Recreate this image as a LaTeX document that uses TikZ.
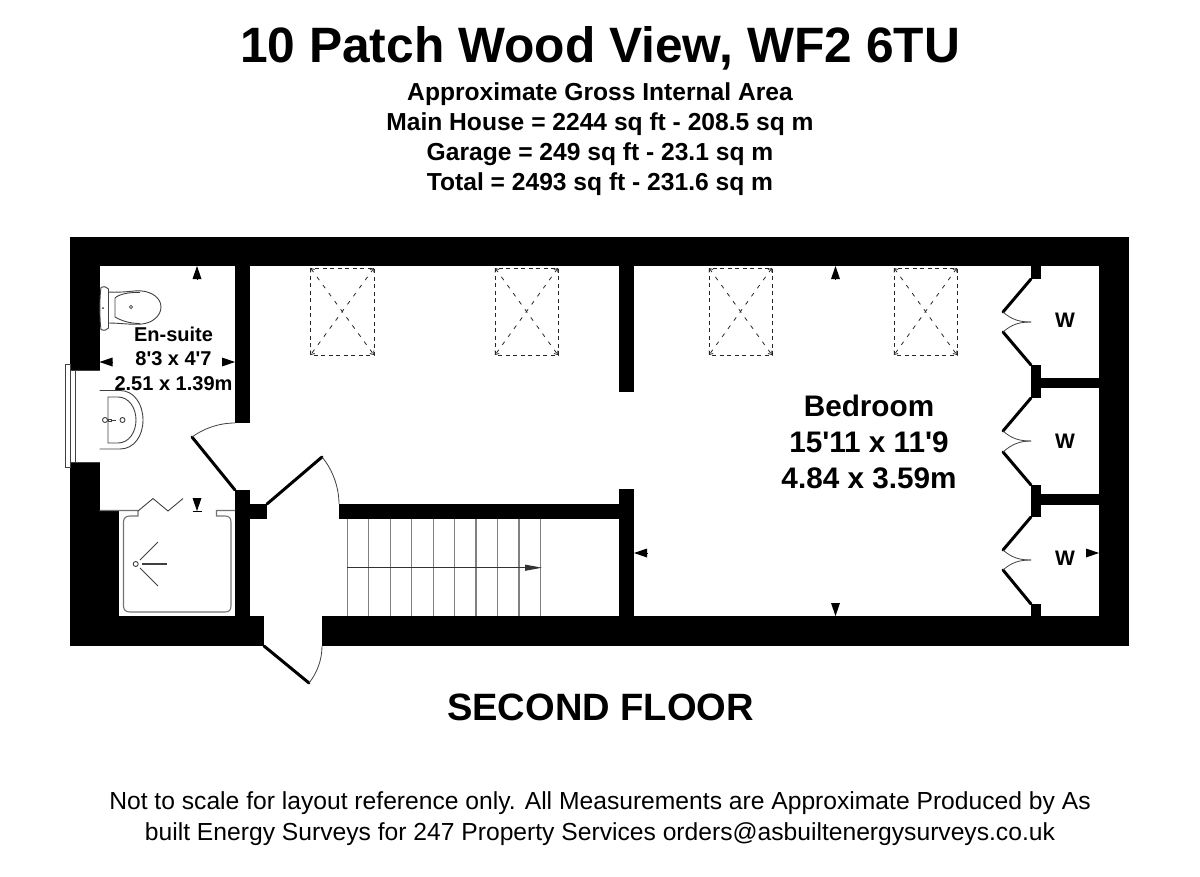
\documentclass[tikz,border=0pt]{standalone}
\usepackage{fontspec}
\setmainfont[Ligatures=TeXOff]{Liberation Sans}
\usetikzlibrary{arrows.meta}

\begin{document}
\begin{tikzpicture}[
    x=1pt,
    y=-1pt,
    every node/.style={inner sep=0pt, align=center},
    wall/.style={fill=black},
    leaf/.style={line width=3pt, color=black, line cap=round},
    swing/.style={line width=0.8pt, color=black!75},
    fixture/.style={line width=0.9pt, color=black!75},
    tread/.style={line width=1.3pt, color=black!50},
    skylight/.style={
        line width=0.8pt,
        color=black!85,
        dash pattern=on 4pt off 3.5pt
    },
    skydiag/.style={
        skylight,
        dash pattern=on 4pt off 6pt,
        {Straight Barb[length=3pt,width=5pt]}-{Straight Barb[length=3pt,width=5pt]}
    },
    dimtip/.style={
        -{Triangle[length=13pt,width=9pt]},
        line width=0pt,
        color=black
    },
    titletext/.style={font=\fontsize{49.7}{54}\selectfont\bfseries},
    areatext/.style={font=\fontsize{24.6}{30}\selectfont\bfseries},
    floortext/.style={font=\fontsize{38.1}{42}\selectfont\bfseries},
    notetext/.style={font=\fontsize{24.65}{31}\selectfont},
    bedroomtext/.style={font=\fontsize{29.7}{36}\selectfont\bfseries},
    ensuitetext/.style={font=\fontsize{20}{24.5}\selectfont\bfseries},
    robetext/.style={font=\fontsize{21}{22}\selectfont\bfseries}
]
\useasboundingbox (0,0) rectangle (1200,876);

% ==================== HEADINGS ====================
\node[titletext] (title) at (600,48) {10 Patch Wood View, WF2 6TU};
\node[areatext] (area) at (600,139) {Approximate Gross Internal Area\\Main House = 2244 sq ft - 208.5 sq m\\Garage = 249 sq ft - 23.1 sq m\\Total = 2493 sq ft - 231.6 sq m};
\node[floortext] (floor) at (600.5,707) {SECOND FLOOR};
\node[notetext] (note) at (600,819) {Not to scale for layout reference only. All Measurements are Approximate Produced by As\\built Energy Surveys for 247 Property Services orders@asbuiltenergysurveys.co.uk};

% ==================== WALLS ====================
% Outer walls
\fill[wall] (70,237) rectangle (1129,266);
\fill[wall] (70,237) rectangle (99.5,370);
\fill[wall] (70,462) rectangle (99.5,510);
\fill[wall] (70,510) rectangle (119,646);
\fill[wall] (70,616) rectangle (264,646);
\fill[wall] (322,616) rectangle (1129,646);
\fill[wall] (1099,237) rectangle (1129,646);

% Inner walls
\fill[wall] (235,266) rectangle (250,423);
\fill[wall] (235,490) rectangle (250,616);
\fill[wall] (250,504) rectangle (267,519);
\fill[wall] (338.5,504) rectangle (634,519);
\fill[wall] (618.5,489) rectangle (634,616);
\fill[wall] (618.5,266) rectangle (634,392);

% Wardrobe walls
\fill[wall] (1030.5,266) rectangle (1041,279);
\fill[wall] (1030.5,365) rectangle (1041,398);
\fill[wall] (1030.5,485) rectangle (1041,517);
\fill[wall] (1030.5,604) rectangle (1041,616);
\fill[wall] (1041,378) rectangle (1099,388);
\fill[wall] (1041,494) rectangle (1099,505);

% ==================== DOORS ====================
\draw[leaf] (235,490) -- (192,437);
\draw[swing] (192,437) .. controls (203,429) and (218,423) .. (235,423);
\draw[leaf] (267,504) -- (322,457);
\draw[swing] (322,457) .. controls (333,470) and (339,488) .. (339,504);
\draw[leaf] (264,646) -- (309,683);
\draw[swing] (322,646) .. controls (322,660) and (317,673) .. (309,683);

% Wardrobe doors
\draw[leaf] (1031,279) -- (1003,312);
\draw[leaf] (1031,365) -- (1003,332);
\draw[swing] (1003,312) .. controls (1012,320) and (1020,322) .. (1031,322);
\draw[swing] (1003,332) .. controls (1012,324) and (1020,322) .. (1031,322);
\draw[leaf] (1031,398) -- (1003,431);
\draw[leaf] (1031,485) -- (1003,452);
\draw[swing] (1003,431) .. controls (1012,439) and (1020,441) .. (1031,441);
\draw[swing] (1003,452) .. controls (1012,444) and (1020,441) .. (1031,441);
\draw[leaf] (1031,517) -- (1003,550);
\draw[leaf] (1031,604) -- (1003,570);
\draw[swing] (1003,550) .. controls (1012,558) and (1020,560) .. (1031,560);
\draw[swing] (1003,570) .. controls (1012,562) and (1020,560) .. (1031,560);

% ==================== SKYLIGHTS ====================
\draw[skylight] (310.5,268) rectangle (374,355);
\draw[skydiag] (310.5,268) -- (374,355);
\draw[skydiag] (374,268) -- (310.5,355);
\draw[skylight] (495,268) rectangle (558,355);
\draw[skydiag] (495,268) -- (558,355);
\draw[skydiag] (558,268) -- (495,355);
\draw[skylight] (709,268) rectangle (772,355);
\draw[skydiag] (709,268) -- (772,355);
\draw[skydiag] (772,268) -- (709,355);
\draw[skylight] (894,268) rectangle (957,355);
\draw[skydiag] (894,268) -- (957,355);
\draw[skydiag] (957,268) -- (894,355);

% ==================== STAIRS ====================
\draw[tread] (347.3,519) -- (347.3,616) (368.7,519) -- (368.7,616)
    (390.2,519) -- (390.2,616) (411.7,519) -- (411.7,616)
    (433.2,519) -- (433.2,616) (454.7,519) -- (454.7,616)
    (476.1,519) -- (476.1,616) (497.6,519) -- (497.6,616)
    (519.1,519) -- (519.1,616) (540.6,519) -- (540.6,616);
\draw[fixture, -{Triangle[length=17pt,width=6pt]}, color=black!80] (347.3,567.7) -- (542,567.7);

% ==================== WINDOW ====================
\draw[fixture] (65,364) rectangle (70,467);
\draw[fixture] (70,370) rectangle (75,462);
\draw[fixture] (75,370) -- (99.5,370) (75,462) -- (99.5,462);

% ==================== TOILET ====================
\draw[fixture] (101,287.5) .. controls (99.5,296) and (99.5,320) .. (101,329.5)
    .. controls (104,331) and (107,330) .. (108.5,328)
    -- (108.5,289) .. controls (107,287) and (104,286) .. (101,287.5);
\draw[fixture] (108.5,292) .. controls (125,293) and (135,290) .. (142,291)
    .. controls (152,292) and (161,298) .. (161,307)
    .. controls (161,316) and (152,323) .. (142,324)
    .. controls (132,325) and (120,323) .. (108.5,323);
\draw[fixture] (115,298) .. controls (119,294) and (130,292) .. (140,292.5)
    (115,298) -- (115,317)
    .. controls (122,321) and (130,323.5) .. (140,323.5);
\draw[fixture, line width=0.7pt] (131,307) circle (1.7);
\fill[black!80] (103,308) circle (1);

% ==================== BASIN ====================
\draw[fixture] (99.5,390.5) -- (120,390.5)
    .. controls (134,390.5) and (143,404) .. (143,420)
    .. controls (143,436) and (134,449) .. (120,449) -- (99.5,449);
\draw[fixture] (108,397) -- (118,397)
    .. controls (129,397) and (136,408) .. (136,420)
    .. controls (136,432) and (129,443) .. (118,443) -- (108,443) -- cycle;
\draw[fixture] (105,420) circle (2.5) (122.5,420) circle (2.5);
\draw[fixture] (108,419) rectangle (111,421.5) (111,420) -- (116,420);

% ==================== SHOWER ====================
\draw[fixture, line width=1.1pt, color=black!55] (99.5,510.5) -- (138,510.5) -- (138,516) -- (130,516)
    .. controls (126,516) and (123.5,518) .. (123.5,522) -- (123.5,606)
    .. controls (123.5,610) and (126,612) .. (130,612) -- (225,612)
    .. controls (229,612) and (231,610) .. (231,606) -- (231,522)
    .. controls (231,518) and (229,516) .. (225,516) -- (216.5,516)
    -- (216.5,510.5) -- (235,510.5);
\draw[fixture] (138,511) -- (153,498.5) -- (168,511) -- (183,498.5);
\draw[fixture] (135.7,564) circle (2.5);
\draw[fixture] (140,560) -- (158,542);
\draw[fixture, line width=1.1pt] (142,564) -- (167,564);
\draw[fixture] (140,568) -- (158,586);

% ==================== DIMENSION MARKERS ====================
\draw[dimtip] (197,279) -- (197,266);
\draw[dimtip] (112,362) -- (99.5,362);
\draw[dimtip] (222,362) -- (235,362);
\draw[dimtip] (197,498) -- (197,511);
\draw[fixture, color=black] (192.5,511) -- (201.5,511);
\draw[dimtip] (835.5,279) -- (835.5,266);
\draw[dimtip] (835.5,604) -- (835.5,616);
\draw[dimtip] (646,553) -- (634,553);
\draw[dimtip] (1087,553) -- (1099,553);

% ==================== ROOM LABELS ====================
\node[ensuitetext] (ensuite) at (173.5,358.5) {En-suite\\8'3 x 4'7\\2.51 x 1.39m};
\node[bedroomtext] (bedroom) at (869,442) {Bedroom\\15'11 x 11'9\\4.84 x 3.59m};
\node[robetext] (robeone) at (1065,320) {W};
\node[robetext] (robetwo) at (1065,441) {W};
\node[robetext] (robethree) at (1065,558) {W};

\end{tikzpicture}
\end{document}
